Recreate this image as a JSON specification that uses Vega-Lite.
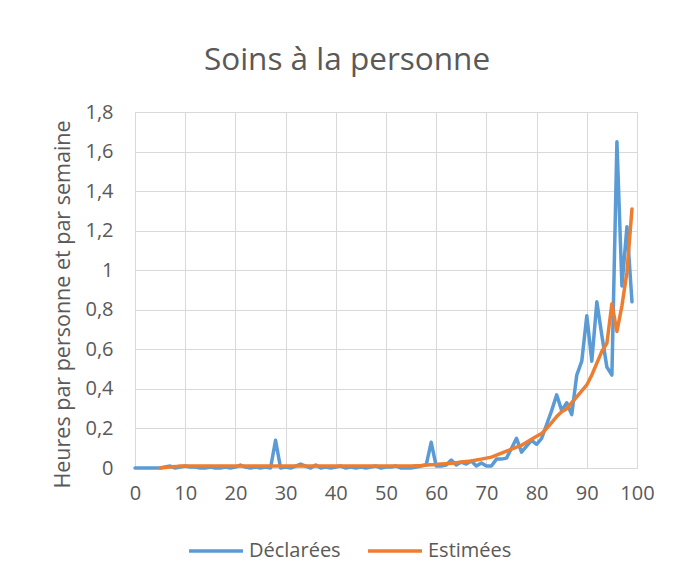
{
  "$schema": "https://vega.github.io/schema/vega-lite/v6.json",
  "autosize": "none",
  "width": 502,
  "height": 356,
  "padding": {"left": 135, "top": 112, "right": 41, "bottom": 114},
  "background": "white",
  "title": {
    "text": "Soins à la personne",
    "font": "Open Sans",
    "fontSize": 31.5,
    "fontWeight": "normal",
    "color": "#595959",
    "anchor": "middle",
    "dx": -39,
    "baseline": "alphabetic",
    "offset": 1
  },
  "data": {
    "values": [
      {"age":0,"d":0},{"age":1,"d":0},{"age":2,"d":0},{"age":3,"d":0},{"age":4,"d":0},
      {"age":5,"d":0,"e":0},{"age":6,"d":0.005,"e":0.003},{"age":7,"d":0.01,"e":0.005},{"age":8,"d":0,"e":0.007},{"age":9,"d":0.005,"e":0.01},
      {"age":10,"d":0.01,"e":0.01},{"age":11,"d":0.005,"e":0.01},{"age":12,"d":0.005,"e":0.01},{"age":13,"d":0,"e":0.01},{"age":14,"d":0,"e":0.01},
      {"age":15,"d":0.005,"e":0.01},{"age":16,"d":0,"e":0.01},{"age":17,"d":0,"e":0.01},{"age":18,"d":0.005,"e":0.01},{"age":19,"d":0,"e":0.01},
      {"age":20,"d":0.005,"e":0.01},{"age":21,"d":0.015,"e":0.01},{"age":22,"d":0.005,"e":0.01},{"age":23,"d":0,"e":0.01},{"age":24,"d":0.005,"e":0.01},
      {"age":25,"d":0,"e":0.01},{"age":26,"d":0.005,"e":0.01},{"age":27,"d":0,"e":0.01},{"age":28,"d":0.14,"e":0.01},{"age":29,"d":0,"e":0.01},
      {"age":30,"d":0.005,"e":0.01},{"age":31,"d":0,"e":0.01},{"age":32,"d":0.01,"e":0.01},{"age":33,"d":0.02,"e":0.01},{"age":34,"d":0.01,"e":0.01},
      {"age":35,"d":0,"e":0.01},{"age":36,"d":0.015,"e":0.01},{"age":37,"d":0,"e":0.01},{"age":38,"d":0.005,"e":0.01},{"age":39,"d":0,"e":0.01},
      {"age":40,"d":0.005,"e":0.01},{"age":41,"d":0.01,"e":0.01},{"age":42,"d":0,"e":0.01},{"age":43,"d":0.005,"e":0.01},{"age":44,"d":0,"e":0.01},
      {"age":45,"d":0.005,"e":0.01},{"age":46,"d":0,"e":0.01},{"age":47,"d":0.005,"e":0.01},{"age":48,"d":0.01,"e":0.01},{"age":49,"d":0,"e":0.01},
      {"age":50,"d":0.005,"e":0.01},{"age":51,"d":0.005,"e":0.01},{"age":52,"d":0.01,"e":0.01},{"age":53,"d":0,"e":0.01},{"age":54,"d":0,"e":0.01},
      {"age":55,"d":0,"e":0.01},{"age":56,"d":0.005,"e":0.012},{"age":57,"d":0.01,"e":0.013},{"age":58,"d":0.015,"e":0.015},{"age":59,"d":0.13,"e":0.017},
      {"age":60,"d":0.01,"e":0.018},{"age":61,"d":0.01,"e":0.02},{"age":62,"d":0.015,"e":0.022},{"age":63,"d":0.04,"e":0.024},{"age":64,"d":0.015,"e":0.027},
      {"age":65,"d":0.03,"e":0.03},{"age":66,"d":0.02,"e":0.033},{"age":67,"d":0.035,"e":0.036},{"age":68,"d":0.01,"e":0.04},{"age":69,"d":0.025,"e":0.045},
      {"age":70,"d":0.01,"e":0.05},{"age":71,"d":0.01,"e":0.055},{"age":72,"d":0.045,"e":0.065},{"age":73,"d":0.045,"e":0.075},{"age":74,"d":0.05,"e":0.085},
      {"age":75,"d":0.1,"e":0.095},{"age":76,"d":0.15,"e":0.105},{"age":77,"d":0.08,"e":0.115},{"age":78,"d":0.11,"e":0.13},{"age":79,"d":0.14,"e":0.145},
      {"age":80,"d":0.12,"e":0.16},{"age":81,"d":0.15,"e":0.175},{"age":82,"d":0.22,"e":0.2},{"age":83,"d":0.29,"e":0.23},{"age":84,"d":0.37,"e":0.26},
      {"age":85,"d":0.29,"e":0.285},{"age":86,"d":0.33,"e":0.3},{"age":87,"d":0.27,"e":0.33},{"age":88,"d":0.47,"e":0.36},{"age":89,"d":0.54,"e":0.39},
      {"age":90,"d":0.77,"e":0.42},{"age":91,"d":0.54,"e":0.47},{"age":92,"d":0.84,"e":0.53},{"age":93,"d":0.67,"e":0.59},{"age":94,"d":0.51,"e":0.63},
      {"age":95,"d":0.47,"e":0.83},{"age":96,"d":1.65,"e":0.69},{"age":97,"d":0.92,"e":0.82},{"age":98,"d":1.22,"e":0.99},{"age":99,"d":0.84,"e":1.31}
    ]
  },
  "transform": [
    {"fold": ["d", "e"], "as": ["k", "h"]},
    {"lookup": "k", "from": {"data": {"values": [{"k": "d", "serie": "Déclarées"}, {"k": "e", "serie": "Estimées"}]}, "key": "k", "fields": ["serie"]}}
  ],
  "mark": {"type": "line", "strokeWidth": 3.5, "strokeJoin": "round", "strokeCap": "round"},
  "encoding": {
    "x": {
      "field": "age", "type": "quantitative",
      "scale": {"domain": [0, 100], "nice": false},
      "axis": {
        "values": [0,10,20,30,40,50,60,70,80,90,100],
        "title": null,
        "ticks": false,
        "labelPadding": 15,
        "labelFont": "Open Sans",
        "labelFontSize": 20,
        "labelColor": "#595959",
        "domainColor": "#d9d9d9",
        "domainWidth": 1,
        "gridColor": "#d9d9d9",
        "labelFlush": false
      }
    },
    "y": {
      "field": "h", "type": "quantitative",
      "scale": {"domain": [0, 1.8], "nice": false},
      "axis": {
        "values": [0,0.2,0.4,0.6,0.8,1,1.2,1.4,1.6,1.8],
        "labelExpr": "replace(format(datum.value, '.1~f'), '.', ',')",
        "title": "Heures par personne et par semaine",
        "titleFont": "Open Sans",
        "titleFontSize": 21.5,
        "titleFontWeight": "normal",
        "titleColor": "#595959",
        "titleX": -72,
        "titleY": 192,
        "titleAngle": -90,
        "titleAlign": "center",
        "titleBaseline": "middle",
        "ticks": false,
        "domain": false,
        "labelPadding": 22,
        "labelFont": "Open Sans",
        "labelFontSize": 20,
        "labelColor": "#595959",
        "gridColor": "#d9d9d9"
      }
    },
    "color": {
      "field": "serie", "type": "nominal",
      "scale": {"domain": ["Déclarées", "Estimées"], "range": ["#5B9BD5", "#ED7D31"]},
      "legend": {
        "title": null,
        "orient": "none",
        "direction": "horizontal",
        "legendX": 52,
        "legendY": 410,
        "symbolType": "stroke",
        "symbolSize": 2916,
        "symbolStrokeWidth": 3.5,
        "labelFont": "Open Sans",
        "labelFontSize": 20,
        "labelColor": "#595959",
        "labelOffset": 4,
        "columnPadding": 20,
        "padding": 0
      }
    }
  },
  "config": {"view": {"stroke": "#d9d9d9"}}
}
